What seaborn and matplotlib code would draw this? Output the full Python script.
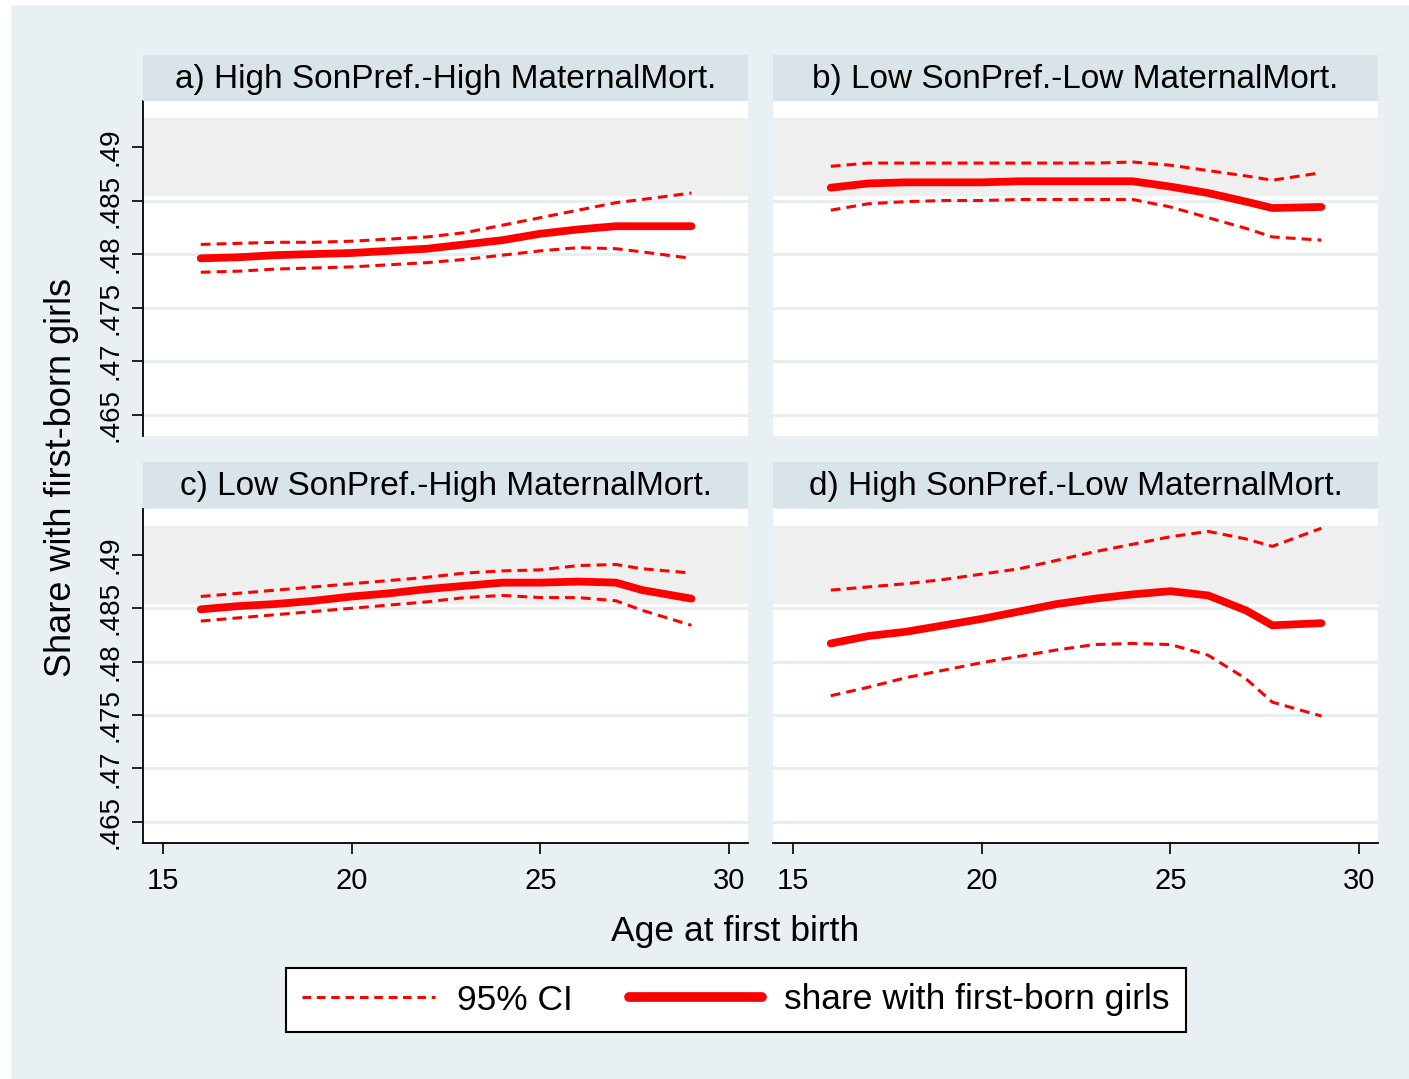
import numpy as np
import pandas as pd
import matplotlib
matplotlib.use("Agg")
import matplotlib.pyplot as plt
from matplotlib.lines import Line2D
from matplotlib.patches import Rectangle
import seaborn as sns

# ---------------- data ----------------
ages = [16, 17, 18, 19, 20, 21, 22, 23, 24, 25, 26, 27, 27.7, 29]

titles = ["a) High SonPref.-High MaternalMort.",
          "b) Low SonPref.-Low MaternalMort.",
          "c) Low SonPref.-High MaternalMort.",
          "d) High SonPref.-Low MaternalMort."]

a_share = [.4796, .4797, .4799, .4800, .4801, .4803, .4805, .4809, .4813, .4819, .4823, .4826, .4826, .4826]
a_upper = [.4809, .4810, .4811, .4811, .4812, .4814, .4816, .4820, .4827, .4834, .4841, .4848, .4851, .4857]
a_lower = [.4783, .4784, .4786, .4787, .4788, .4790, .4792, .4795, .4799, .4803, .4806, .4805, .4802, .4796]

b_share = [.4862, .4866, .4867, .4867, .4867, .4868, .4868, .4868, .4868, .4863, .4857, .4849, .4843, .4844]
b_upper = [.4882, .4885, .4885, .4885, .4885, .4885, .4885, .4885, .4886, .4883, .4878, .4873, .4869, .4876]
b_lower = [.4841, .4847, .4849, .4850, .4850, .4851, .4851, .4851, .4851, .4844, .4834, .4824, .4816, .4813]

c_share = [.4849, .4852, .4854, .4857, .4861, .4864, .4868, .4871, .4874, .4874, .4875, .4874, .4867, .4859]
c_upper = [.4861, .4864, .4867, .4870, .4873, .4876, .4879, .4883, .4885, .4886, .4890, .4891, .4887, .4883]
c_lower = [.4838, .4841, .4844, .4847, .4850, .4853, .4856, .4860, .4862, .4860, .4860, .4857, .4848, .4834]

d_share = [.4817, .4824, .4828, .4834, .4840, .4847, .4854, .4859, .4863, .4866, .4862, .4848, .4834, .4836]
d_upper = [.4867, .4870, .4873, .4877, .4882, .4887, .4895, .4903, .4910, .4917, .4922, .4915, .4908, .4925]
d_lower = [.4768, .4776, .4785, .4792, .4799, .4805, .4811, .4816, .4817, .4816, .4806, .4784, .4762, .4749]

y_ticks = [.465, .47, .475, .48, .485, .49]
y_ticklabels = [".465", ".47", ".475", ".48", ".485", ".49"]
x_ticks = [15, 20, 25, 30]

panels = {
    titles[0]: (a_share, a_upper, a_lower),
    titles[1]: (b_share, b_upper, b_lower),
    titles[2]: (c_share, c_upper, c_lower),
    titles[3]: (d_share, d_upper, d_lower),
}

rows = []
for t, (s, u, l) in panels.items():
    for name, vals in (("share", s), ("upper", u), ("lower", l)):
        for x, v in zip(ages, vals):
            rows.append({"panel": t, "series": name, "age": x, "value": v})
df = pd.DataFrame(rows)

# ---------------- style ----------------
sns.set_theme(style="white")
plt.rcParams["font.family"] = ["Liberation Sans", "DejaVu Sans"]
plt.rcParams["text.color"] = "black"
plt.rcParams["xtick.color"] = "black"
plt.rcParams["ytick.color"] = "black"
plt.rcParams["axes.labelcolor"] = "black"

W, H = 1409, 1079
BG = "#e8f0f3"
STRIP = "#d9e4ea"
GRID = "#e6eef1"
BAND = "#efefef"
RED = "#ff0000"

fig = plt.figure(figsize=(W / 100, H / 100), dpi=100)
fig.patch.set_facecolor(BG)
fig.patches.append(Rectangle((0, 0), 10 / W, 1, transform=fig.transFigure, color="white", zorder=-1))
fig.patches.append(Rectangle((0, 1 - 4 / H), 1, 4 / H, transform=fig.transFigure, color="white", zorder=-1))


def rect(l, t, r, b):
    return [l / W, 1 - b / H, (r - l) / W, (b - t) / H]


boxes = [
    ((143, 101, 748, 436), (143, 55, 748, 101)),
    ((773, 101, 1378, 436), (773, 55, 1378, 101)),
    ((143, 509, 748, 843), (143, 462, 748, 508)),
    ((773, 509, 1378, 843), (773, 462, 1378, 508)),
]

for i, (t, (pbox, sbox)) in enumerate(zip(titles, boxes)):
    ax = fig.add_axes(rect(*pbox))
    ax.set_facecolor("white")
    ax.set_xlim(14.47, 30.5)
    ax.set_ylim(0.4630, 0.4943)
    ax.set_axisbelow(True)
    for y in y_ticks:
        ax.axhline(y, color=GRID, lw=2.0, zorder=0.5)
    ax.axhspan(0.4854, 0.4927, color=BAND, lw=0, zorder=0.8)

    sub = df[df["panel"] == t]
    for name in ("upper", "lower"):
        sns.lineplot(data=sub[sub["series"] == name], x="age", y="value", ax=ax,
                     color=RED, lw=2.2, estimator=None, sort=False,
                     errorbar=None, legend=False, zorder=3)
        ax.lines[-1].set_dashes((3.2, 2.0))
    sns.lineplot(data=sub[sub["series"] == "share"], x="age", y="value", ax=ax,
                 color=RED, lw=5.6, estimator=None, sort=False, errorbar=None,
                 legend=False, zorder=4)
    ax.lines[-1].set_solid_capstyle("round")
    ax.lines[-1].set_solid_joinstyle("round")

    ax.set_xlabel("")
    ax.set_ylabel("")
    for sp in ax.spines.values():
        sp.set_visible(False)

    left = i in (0, 2)
    bottom = i in (2, 3)
    if left:
        ax.spines["left"].set_visible(True)
        ax.spines["left"].set_color("black")
        ax.spines["left"].set_linewidth(1.3)
        ax.set_yticks(y_ticks)
        ax.set_yticklabels(y_ticklabels, rotation=90, va="center", fontsize=20)
        ax.tick_params(axis="y", length=8, width=1.2, color="black", pad=6, left=True)
    else:
        ax.set_yticks([])
    if bottom:
        ax.spines["bottom"].set_visible(True)
        ax.spines["bottom"].set_color("black")
        ax.spines["bottom"].set_linewidth(1.3)
        ax.set_xticks(x_ticks)
        ax.set_xticklabels([str(v) for v in x_ticks], fontsize=21)
        ax.tick_params(axis="x", length=8, width=1.2, color="black", pad=9, bottom=True)
    else:
        ax.set_xticks([])

    sax = fig.add_axes(rect(*sbox))
    sax.set_facecolor(STRIP)
    sax.set_xticks([])
    sax.set_yticks([])
    for sp in sax.spines.values():
        sp.set_visible(False)
    sax.text(0.5, 0.47, t, ha="center", va="center", fontsize=24,
             transform=sax.transAxes, color="black")

fig.text(62 / W, 1 - 478 / H, "Share with first-born girls", rotation=90,
         ha="center", va="center", fontsize=26, color="black")
fig.text(735 / W, 1 - 931 / H, "Age at first birth", ha="center", va="center",
         fontsize=25.5, color="black")

handles = [Line2D([], [], color=RED, lw=2.2, dashes=(2.8, 1.9)),
           Line2D([], [], color=RED, lw=7)]
leg = fig.legend(handles, ["95% CI", "share with first-born girls"], ncol=2,
                 loc="center", bbox_to_anchor=(736 / W, 1 - 1000 / H),
                 fontsize=25.5, frameon=True, fancybox=False, handlelength=3.75,
                 handletextpad=0.62, columnspacing=1.6, borderpad=0.45,
                 edgecolor="black", facecolor="white", framealpha=1)
leg.get_frame().set_linewidth(1.5)

fig.savefig("out.png", dpi=100, facecolor=fig.get_facecolor())
